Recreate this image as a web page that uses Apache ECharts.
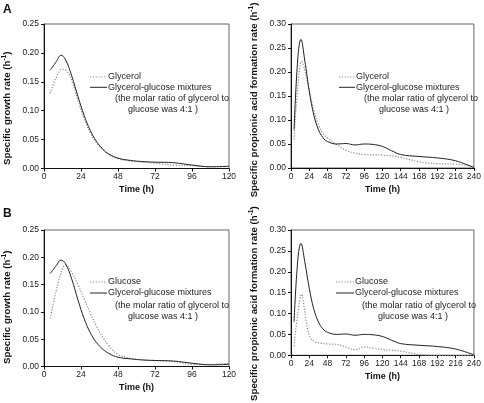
<!DOCTYPE html>
<html>
<head>
<meta charset="utf-8">
<script src="https://cdn.jsdelivr.net/npm/echarts@6/dist/echarts.min.js"></script>
<style>html,body{margin:0;padding:0;background:#fff}#c{width:484px;height:403px}</style>
</head>
<body>
<div id="c"></div>
<script>
// ---- Data ----
// Panel A: specific growth rate (glycerol vs mixture)
const tA_gly = [4, 8, 12, 15, 18, 22, 26, 30, 34, 38, 42, 48, 56, 64, 72, 84, 96, 108, 120];
const vA_gly = [0.130, 0.158, 0.172, 0.168, 0.152, 0.118, 0.087, 0.062, 0.045, 0.033, 0.025, 0.017, 0.013, 0.011, 0.009, 0.006, 0.005, 0.003, 0.003];
const tA_mix = [4, 8, 11, 14, 18, 22, 26, 30, 34, 38, 42, 48, 56, 64, 72, 84, 96, 108, 120];
const vA_mix = [0.170, 0.185, 0.196, 0.188, 0.160, 0.125, 0.092, 0.066, 0.047, 0.034, 0.025, 0.018, 0.014, 0.012, 0.011, 0.010, 0.006, 0.003, 0.004];
// Panel B: specific growth rate (glucose vs mixture)
const tB_glu = [4, 8, 12, 14, 18, 22, 26, 30, 34, 38, 42, 48, 56, 64, 72, 84, 96, 108, 120];
const vB_glu = [0.088, 0.140, 0.180, 0.186, 0.172, 0.150, 0.124, 0.098, 0.074, 0.054, 0.038, 0.022, 0.015, 0.012, 0.011, 0.009, 0.004, 0.004, 0.006];
const tB_mix = [4, 8, 11, 14, 18, 22, 26, 30, 34, 38, 42, 48, 56, 64, 72, 84, 96, 108, 120];
const vB_mix = [0.170, 0.185, 0.195, 0.188, 0.160, 0.122, 0.088, 0.062, 0.044, 0.032, 0.024, 0.017, 0.014, 0.012, 0.011, 0.010, 0.006, 0.003, 0.004];
// Panel C: specific propionic acid formation rate (glycerol vs mixture)
const tC_gly = [4, 9, 14, 18, 24, 30, 36, 42, 48, 60, 72, 84, 96, 120, 144, 168, 192, 216, 240];
const vC_gly = [0.060, 0.170, 0.222, 0.205, 0.160, 0.120, 0.090, 0.072, 0.062, 0.049, 0.037, 0.031, 0.028, 0.027, 0.022, 0.013, 0.009, 0.008, 0.002];
const tC_mix = [4, 9, 13, 18, 24, 30, 36, 42, 48, 60, 72, 84, 96, 108, 120, 132, 144, 168, 192, 216, 240];
const vC_mix = [0.080, 0.230, 0.268, 0.225, 0.160, 0.110, 0.080, 0.063, 0.055, 0.050, 0.051, 0.048, 0.050, 0.049, 0.045, 0.036, 0.028, 0.024, 0.021, 0.015, 0.001];
// Panel D: specific propionic acid formation rate (glucose vs mixture)
const tD_glu = [4, 9, 14, 18, 22, 26, 32, 40, 48, 60, 72, 84, 96, 108, 120, 144, 168, 192, 216, 240];
const vD_glu = [0.022, 0.100, 0.146, 0.105, 0.062, 0.040, 0.032, 0.029, 0.027, 0.026, 0.020, 0.013, 0.020, 0.017, 0.014, 0.010, 0.002, 0.000, 0.000, 0.000];
const tD_mix = [4, 9, 13, 18, 24, 30, 36, 42, 48, 60, 72, 84, 96, 108, 120, 132, 144, 168, 192, 216, 240];
const vD_mix = [0.080, 0.230, 0.268, 0.225, 0.160, 0.110, 0.080, 0.063, 0.055, 0.050, 0.051, 0.048, 0.050, 0.049, 0.045, 0.036, 0.028, 0.024, 0.021, 0.015, 0.001];

// Axis ranges / ticks
const growthXMax = 120, propXMax = 240, xStep = 24;
const growthYMax = 0.25, propYMax = 0.30, yStep = 0.05;

const nameGly = 'Glycerol', nameGlu = 'Glucose', nameMix = 'Glycerol-glucose mixtures';
const noteLine1 = '(the molar ratio of glycerol to';
const noteLine2 = 'glucose was 4:1 )';
const nameGrowth = 'Specific growth rate', nameProp = 'Specific propionic acid formation rate';

// ---- Chart ----
const FONT = '"Liberation Sans", Arial, Helvetica, sans-serif';
const DOT = '#8a8a8a', SOLID = '#222';
const pairs = (ts, vs) => ts.map((t, i) => [t, vs[i]]);
const grids = [
  {left: 44, top: 24, width: 185, height: 144.5},
  {left: 291, top: 24, width: 184, height: 144},
  {left: 44, top: 230, width: 185, height: 136.5},
  {left: 291, top: 230, width: 184, height: 136.5}
].map(g => Object.assign(g, {show: true, borderColor: '#666', borderWidth: 1, containLabel: false}));

function xAx(gi, max) {
  return {type: 'value', gridIndex: gi, min: 0, max: max, interval: xStep,
    name: 'Time (h)', nameLocation: 'middle', nameGap: 17,
    nameTextStyle: {fontFamily: FONT, fontSize: 9, fontWeight: 'bold', color: '#111'},
    axisLine: {lineStyle: {color: '#111', width: 1}},
    axisTick: {length: 3, lineStyle: {color: '#111'}},
    axisLabel: {fontFamily: FONT, fontSize: 8.5, color: '#222', margin: 4},
    splitLine: {show: false}};
}
function yAx(gi, max, name, shift) {
  return {type: 'value', gridIndex: gi, min: 0, max: max, interval: yStep,
    name: name + ' (h{sup|-1})', nameLocation: 'middle', nameGap: 31, nameRotate: 90,
    nameTextStyle: {fontFamily: FONT, fontSize: 9.7, fontWeight: 'bold', color: '#111',
      padding: [0, shift * 2, 0, 0],
      rich: {sup: {fontSize: 6.5, fontWeight: 'bold', fontFamily: FONT, color: '#111', verticalAlign: 'top', padding: [0, 0, 5, 0]}}},
    axisLine: {show: true, lineStyle: {color: '#111', width: 1}},
    axisTick: {show: true, length: 3, lineStyle: {color: '#111'}},
    axisLabel: {fontFamily: FONT, fontSize: 8.5, color: '#222', margin: 5, formatter: v => v.toFixed(2)},
    splitLine: {show: false}};
}
function ser(name, gi, data, dotted) {
  return {type: 'line', name: name, xAxisIndex: gi, yAxisIndex: gi, data: data,
    smooth: 0.4, symbol: 'none', animation: false,
    lineStyle: dotted ? {color: DOT, width: 1.2, type: [1.2, 1.6]} : {color: SOLID, width: 1}};
}
// legend block: sample lines + texts (x0 = sample start, y0 = first row centre)
function legendBlock(x0, x1, y0, dy, firstName, n1x, n2x) {
  const txt = (x, y, s) => ({type: 'text', x: x, y: y, style: {text: s, font: '9px ' + FONT, fill: '#222', verticalAlign: 'middle'}});
  return [
    {type: 'line', shape: {x1: x0, y1: y0, x2: x1, y2: y0}, style: {stroke: DOT, lineWidth: 1.2, lineDash: [1.2, 1.6]}},
    txt(x1 + 1, y0, firstName),
    {type: 'line', shape: {x1: x0, y1: y0 + dy, x2: x1, y2: y0 + dy}, style: {stroke: SOLID, lineWidth: 1}},
    txt(x1 + 1, y0 + dy, nameMix),
    txt(n1x, y0 + dy * 2.1, noteLine1),
    txt(n2x, y0 + dy * 3.15, noteLine2)
  ];
}

const option = {
  backgroundColor: '#fff',
  animation: false,
  grid: grids,
  xAxis: [xAx(0, growthXMax), xAx(1, propXMax), xAx(2, growthXMax), xAx(3, propXMax)],
  yAxis: [yAx(0, growthYMax, nameGrowth, 12), yAx(1, propYMax, nameProp, 4),
          yAx(2, growthYMax, nameGrowth, 9), yAx(3, propYMax, nameProp, 11)],
  series: [
    ser(nameGly, 0, pairs(tA_gly, vA_gly), true), ser(nameMix, 0, pairs(tA_mix, vA_mix), false),
    ser(nameGly, 1, pairs(tC_gly, vC_gly), true), ser(nameMix, 1, pairs(tC_mix, vC_mix), false),
    ser(nameGlu, 2, pairs(tB_glu, vB_glu), true), ser(nameMix, 2, pairs(tB_mix, vB_mix), false),
    ser(nameGlu, 3, pairs(tD_glu, vD_glu), true), ser(nameMix, 3, pairs(tD_mix, vD_mix), false)
  ],
  graphic: [
    {type: 'text', x: 3, y: 4, style: {text: 'A', font: 'bold 12px ' + FONT, fill: '#111'}},
    {type: 'text', x: 3, y: 208, style: {text: 'B', font: 'bold 12px ' + FONT, fill: '#111'}}
  ].concat(
    legendBlock(90, 107, 77, 10.3, nameGly, 115, 128),
    legendBlock(339, 355, 77, 10.3, nameGly, 364, 379),
    legendBlock(90, 107, 282, 11, nameGlu, 115, 128),
    legendBlock(336, 354, 282, 11, nameGlu, 362, 378)
  )
};
const chart = echarts.init(document.getElementById('c'), null, {renderer: 'canvas'});
chart.setOption(option);
</script>
</body>
</html>
